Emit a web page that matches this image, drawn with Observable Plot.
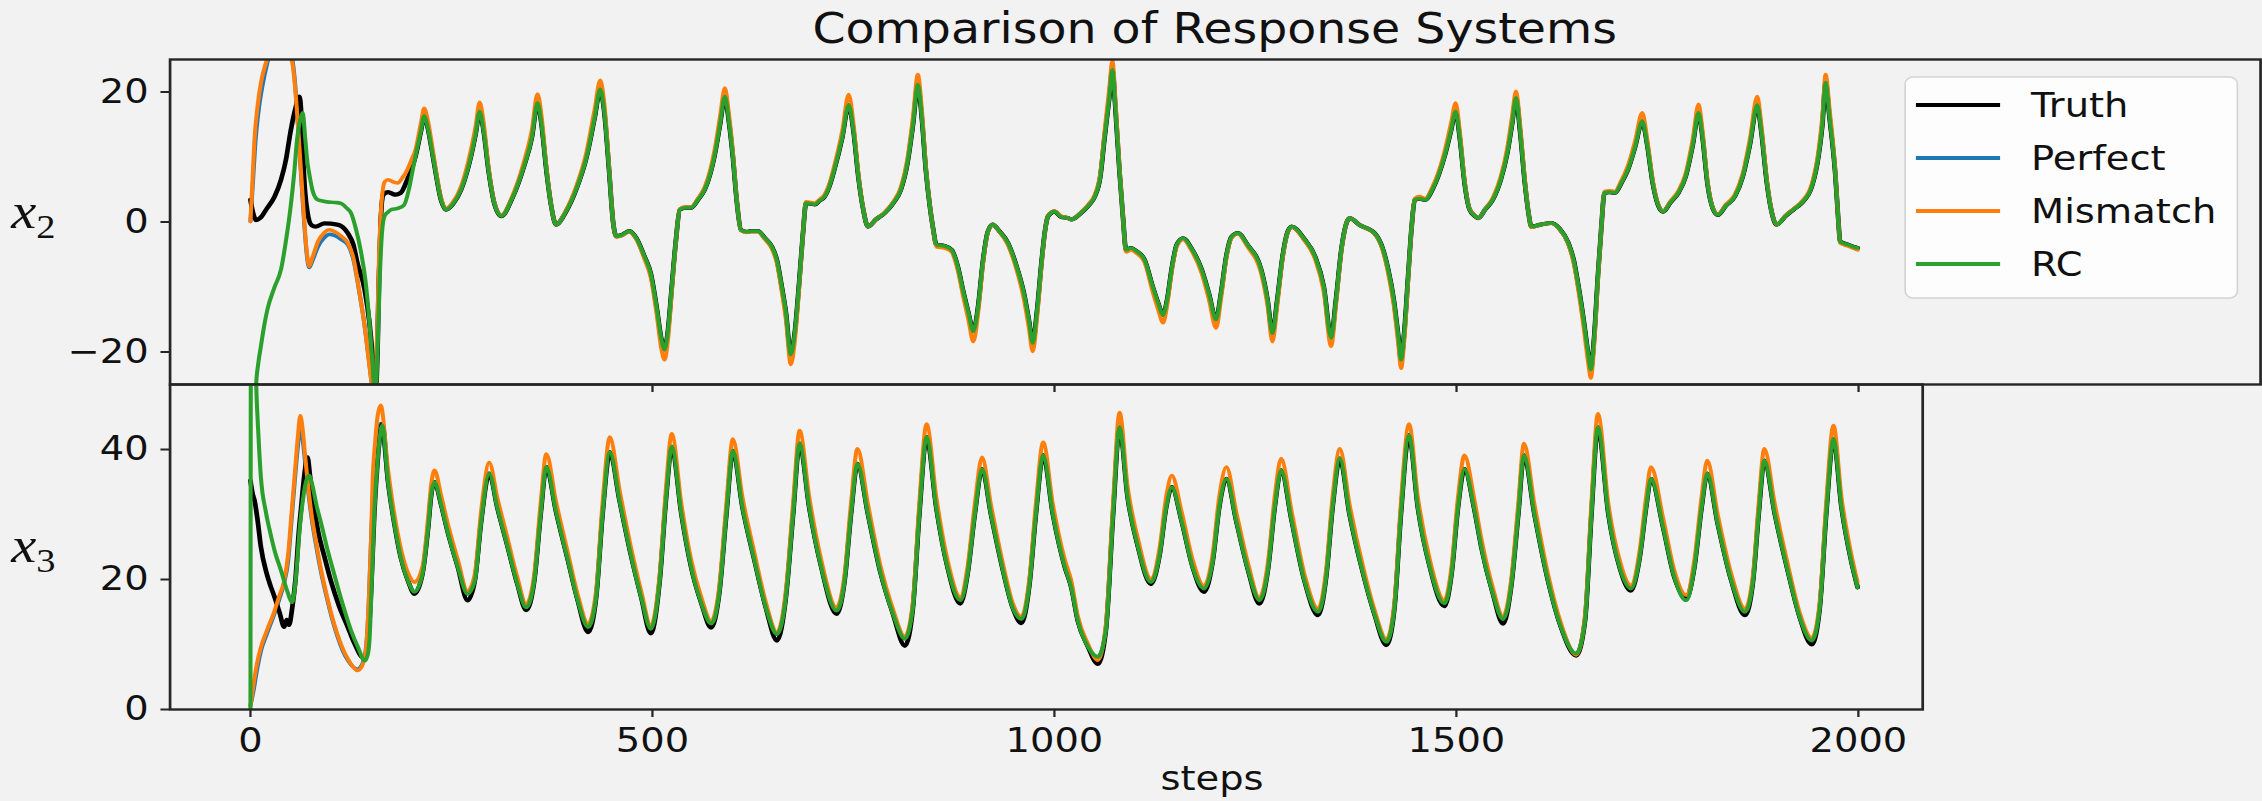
<!DOCTYPE html>
<html>
<head>
<meta charset="utf-8">
<script src="https://cdn.jsdelivr.net/npm/d3@7"></script>
<script src="https://cdn.jsdelivr.net/npm/@observablehq/plot@0.6"></script>
<style>
  html, body { margin: 0; padding: 0; background: #f2f2f2; }
  #fig { position: relative; width: 2002px; height: 801px; transform: scaleX(1.13); transform-origin: 0 0; }
  #fig > * { position: absolute; left: 0; }
</style>
</head>
<body>
<div id="fig"></div>
<script>
// ---- axis ticks and series ----
const stepTicks = [0, 500, 1000, 1500, 2000];
const x2Ticks = [-20, 0, 20];
const x3Ticks = [0, 20, 40];
const seriesNames = ["Truth", "Perfect", "Mismatch", "RC"];
const seriesColors = ["#000000", "#1f77b4", "#ff7f0e", "#2ca02c"];

// ---- x2: start-up transient of each system, [step, value] ----
const truthX2Start = [[0,3.4],[3,1.5],[7,0.3],[12,0.6],[20,2],[30,3.9],[38,6.5],[44,9.5],[50,14],[56,17.5],[61,19.3],[63,17],[65,11],[68,4.5],[71,1.4],[76,-0.5],[81,-0.7],[92,-0.2],[108,-0.4],[121,-1.7],[128,-3.5],[133,-6.3],[142,-10.4],[148,-15.5],[152,-21],[155,-27],[158,-20],[160,-8],[162,0],[165,4.2],[171,4.6],[180,4.2],[187,4.5],[195,6.5],[200,8]];
const perfectX2Start = [[0,0.1],[3,6],[6,12],[10,17],[15,21],[20,24],[27,26.5],[40,27],[50,26],[55,22],[59,15],[63,7],[67,-0.5],[70,-5],[73,-7],[77,-6],[84,-3.8],[92,-2.4],[98,-1.9],[105,-2.1],[113,-2.7],[121,-3.5],[128,-5.8],[135,-10.5],[142,-16],[148,-22],[152,-26],[155,-28],[157,-20],[160,-6],[163,2.5],[166,4.2],[171,4.6],[180,4.2],[187,4.5],[195,6.5],[200,8]];
const mismatchX2Start = [[0,0.1],[2,5],[5,12.7],[9,18],[13,21.4],[18,24],[25,26],[35,27],[45,26.5],[52,24.5],[55,21.4],[59,15],[63,7.5],[67,0],[70,-4.5],[73,-6.8],[77,-5.5],[84,-3],[92,-1.6],[98,-1.2],[105,-1.5],[113,-2.2],[121,-3.2],[128,-5.5],[135,-10.4],[142,-16],[148,-22.2],[152,-26],[155,-28],[157,-20],[160,-5],[163,3],[167,6.2],[171,6.5],[177,6.2],[183,6],[189,6.8],[195,8],[200,9.5]];
const rcX2Start = [[0,-60],[4,-35],[7,-25],[10,-21.5],[13,-19.1],[17,-16],[21,-13.5],[30,-10],[38,-7.3],[44,-3],[50,2.4],[54,7],[58,12.7],[62,15.8],[65,16.8],[68,13],[71,9],[73,7.5],[78,4.5],[84,3.4],[95,3.1],[105,3.0],[112,2.9],[120,2.1],[125,1.4],[131,-1],[137,-4.3],[143,-9],[148,-15.5],[152,-22],[155,-28],[158,-20],[161,-8],[164,-1],[167,1.0],[170,1.4],[175,1.9],[183,2.1],[191,2.6],[197,5],[201,7.5]];

// ---- x2 after synchronisation: [step, truth (also Perfect, RC), mismatch] ----
const x2Shared = [
  [205,10,11],[212,14,15.2],[216,16.3,17.5],[220,14.8,16],[225,11.5,12.5],[229,8.6,9.3],[237,3.4,3.8],[243,1.9,2.1],
  [252,2.8,3.1],[262,5,5.5],[274,10,11],[280,13.5,14.7],[285,17,18.4],[290,14,15.3],[296,8,8.6],[303,3,3.2],[312,0.9,1.0],
  [325,3.5,3.8],[340,8.5,9.2],[350,13,14.2],[357,18.3,19.7],[362,15,16.3],[368,8,8.6],[374,2.5,2.6],[380,-0.4,-0.4],
  [392,1.5,1.7],[405,5,5.4],[418,10,10.8],[428,16,17.3],[435,20.4,21.8],[440,17,18.3],[446,8,8.6],[451,0,0],[455,-2.2,-2.3],
  [462,-2.0,-2.1],[471,-1.4,-1.5],[480,-2.5,-2.7],[490,-5.3,-5.7],[498,-8,-8.6],[505,-13,-14],[511,-18,-19.5],[515,-19.6,-21.2],
  [519,-17,-18.4],[524,-10,-10.8],[529,-3,-3.2],[534,1.9,2.0],[541,2.2,2.3],[548,2.2,2.3],[557,3.5,3.7],[565,5,5.4],[572,7.5,8.1],
  [577,10.1,10.9],[584,15,16.2],[590,19.3,20.6],[595,15.5,16.7],[600,10,10.8],[605,3,3.2],[610,-1.2,-1.3],[617,-1.5,-1.6],
  [623,-1.4,-1.5],[631,-1.4,-1.5],[640,-2.5,-2.7],[648,-3.7,-4],[655,-6,-6.5],[660,-9.4,-10.1],[666,-14,-15.1],[672,-20.4,-21.9],
  [677,-17,-18.3],[682,-10,-10.8],[687,-2,-2.1],[691,2.9,3.1],[697,2.8,3.0],[702,2.7,2.9],[708,3.3,3.5],[714,3.9,4.2],[720,5.5,5.9],
  [726,8,8.6],[736,13,14],[744,18,19.6],[750,14,15.1],[756,7,7.5],[762,2,2.1],[768,-0.7,-0.7],[778,0.4,0.4],[789,1.4,1.5],
  [800,3,3.2],[809,5,5.4],[817,9,9.7],[824,15,16.2],[830,21.1,22.7],[835,16,17.3],[840,8,8.6],[845,2.4,2.6],[849,-1,-1.1],
  [853,-3.5,-3.8],[863,-3.7,-4],[872,-4.3,-4.6],[880,-7,-7.6],[886,-10.4,-11.2],[893,-14,-15.1],[899,-16.8,-18.4],[905,-13,-14],
  [911,-6,-6.5],[917,-1.5,-1.6],[923,-0.4,-0.4],[932,-1.5,-1.6],[942,-3.2,-3.5],[952,-6.5,-7],[962,-11,-11.9],[968,-15,-16.2],
  [973,-18.6,-19.9],[978,-14,-15.1],[984,-6,-6.5],[988,-1.5,-1.6],[992,0.9,1.0],[1000,1.6,1.7],[1008,0.8,0.9],[1017,0.6,0.6],
  [1021,0.4,0.4],[1033,1.4,1.5],[1042,2.5,2.7],[1050,3.9,4.2],[1057,7,7.5],[1062,12.7,13.7],[1068,19,20.4],[1072,23.4,24.8],
  [1076,17,18.3],[1081,7.5,8.1],[1085,1,1.1],[1089,-4.3,-4.6],[1095,-4.0,-4.3],[1102,-4.5,-4.8],[1112,-5.8,-6.2],[1122,-9.9,-10.7],
  [1129,-12.5,-13.5],[1135,-14.3,-15.5],[1140,-12,-12.9],[1146,-7,-7.5],[1152,-3.5,-3.8],[1160,-2.5,-2.7],[1170,-4,-4.3],
  [1183,-7.3,-7.9],[1192,-11,-11.9],[1201,-15,-16.3],[1207,-11,-11.9],[1214,-5,-5.4],[1220,-2.3,-2.5],[1228,-1.7,-1.8],
  [1240,-3.5,-3.8],[1257,-7.3,-7.9],[1265,-12,-12.9],[1271,-17.1,-18.4],[1277,-12,-12.9],[1284,-5,-5.4],[1290,-1.5,-1.6],
  [1295,-0.7,-0.8],[1310,-2.5,-2.7],[1324,-5.3,-5.7],[1335,-10,-10.8],[1344,-17.8,-19.1],[1350,-12,-12.9],[1357,-4,-4.3],
  [1363,-0.2,-0.2],[1367,0.6,0.6],[1380,-0.5,-0.5],[1398,-1.7,-1.8],[1408,-4,-4.3],[1415,-7.3,-7.9],[1422,-12,-12.9],
  [1428,-18,-19.3],[1431,-21.2,-22.5],[1435,-17,-18.3],[1440,-8,-8.6],[1444,-1,-1.1],[1448,3.4,3.6],[1454,3.6,3.9],[1461,3.4,3.6],
  [1470,5,5.4],[1477,7,7.5],[1486,10.5,11.3],[1493,14,15.1],[1499,17,18.3],[1504,13,14],[1510,6,6.5],[1516,2,2.1],[1523,0.9,1.0],
  [1527,0.6,0.6],[1536,2,2.1],[1545,3.4,3.7],[1555,6.5,7],[1563,10.5,11.3],[1569,15,16.2],[1574,19.1,20.1],[1579,14,15.1],
  [1585,6,6.5],[1590,1,1.1],[1593,-0.7,-0.8],[1605,-0.4,-0.4],[1618,-0.15,-0.2],[1628,-1,-1.1],[1639,-3.2,-3.4],[1646,-6,-6.5],
  [1651,-9.4,-10.1],[1658,-15,-16.1],[1664,-20.5,-21.9],[1667,-22.7,-24],[1671,-18,-19.3],[1676,-8,-8.6],[1680,-1,-1.1],
  [1684,4.5,4.7],[1690,4.6,4.8],[1697,4.5,4.7],[1705,6,6.4],[1713,8,8.6],[1722,11.5,12.4],[1731,15.5,16.8],[1737,12,12.9],
  [1744,6,6.5],[1751,2.5,2.7],[1757,1.6,1.7],[1766,3,3.2],[1776,4.5,4.8],[1785,7,7.5],[1794,12,12.9],[1801,16.8,18.1],
  [1806,13,14],[1812,6,6.5],[1819,2,2.1],[1825,1.1,1.2],[1835,2.5,2.7],[1846,3.9,4.2],[1856,7,7.5],[1865,12,12.9],[1874,18,19.3],
  [1879,14,15.1],[1886,6,6.5],[1892,1.5,1.6],[1898,-0.4,-0.4],[1910,1,1.1],[1920,2,2.1],[1929,2.9,3.1],[1942,5.5,5.9],
  [1950,10,10.8],[1955,15,16.2],[1959,21.4,22.7],[1964,16,17.3],[1971,7.5,8.1],[1975,0,0],[1977,-3,-3.2],[1982,-3.3,-3.5],
  [1987,-3.5,-3.7],[1993,-3.8,-4.0],[1999,-4,-4.3]
];

// ---- x3: start-up transient of each system, [step, value] ----
const truthX3Start = [[0,35.2],[3,33],[5,32.2],[9,29],[13,25],[20,21],[25,19],[30,17.3],[36,15],[42,12.7],[45,13.8],[48,13],[52,15.7],[56,20],[60,27],[63,31],[67,36],[71,38.8],[74,36],[78,32],[84,27.5],[92,23.5],[100,19.8],[110,16],[121,12.7],[130,10],[140,8],[144,8.5],[146,10.1],[150,18],[154,30.1],[158,38],[161,42],[164,43.9]];
const perfectX3Start = [[0,0.6],[4,3],[8,6],[13,9],[20,11.5],[30,14.8],[36,17],[42,19.5],[47,23],[51,29],[55,35],[59,40.5],[62,43.4],[65,41.5],[68,38],[71,34.5],[76,29.5],[82,25],[88,21],[95,17.2],[101,14.2],[108,11.3],[115,9],[122,7.4],[128,6.5],[133,6.2],[138,6.7],[141,7.8],[144,9.8],[147,16],[150,26],[153,35],[157,41],[162,44]];
const mismatchX3Start = [[0,0.6],[4,4],[8,7],[13,9.6],[20,12],[30,15.2],[36,17.5],[42,19.8],[47,24],[51,30],[55,36],[59,42],[62,45.2],[65,43],[68,39],[71,35.2],[76,30],[82,25.5],[88,21.4],[95,17.5],[101,14.5],[108,11.6],[115,9.3],[122,7.6],[128,6.5],[133,6],[138,6.5],[141,7.5],[144,9.6],[147,16],[150,26],[152,35.2],[155,41],[158,45],[162,46.8]];
const rcX3Start = [[0,0],[1,90],[4,70],[7,50.6],[10,42],[13,35.7],[19,30.5],[25,27],[31,24],[38,21.4],[45,18.5],[52,16.5],[55,18.5],[58,22.5],[61,27.5],[65,32],[69,35],[73,36],[77,34.5],[82,31.5],[88,28.6],[96,24.5],[104,20.9],[114,16.5],[125,12.2],[134,9.5],[142,7.5],[146,8.5],[148,10.6],[151,20],[154,30.1],[158,38],[164,43.7]];

// ---- x3 after synchronisation: [step, truth, rc (also Perfect), mismatch] ----
const x3Shared = [
  [171,35.2,35.2,37],[179,28.6,28.6,30],[187,23.4,23.4,24.8],[196,19.8,19.8,21],[204,17.8,18.1,19.6],[214,20.9,20.9,22],
  [221,28,28,29.5],[225,33.2,33.2,34.8],[229,35,35,36.8],[237,31.6,31.6,33],[245,27.5,27.5,28.8],[258,21.9,21.9,23],
  [270,16.8,17.8,18.2],[279,19.8,19.8,20.8],[287,29,29,30.6],[297,36.3,36.3,38],[307,31.1,31.1,32.6],[320,25,25,26.2],
  [332,19.3,19.3,20.3],[343,15.3,15.7,16.2],[353,19.8,19.8,20.8],[361,30.1,30.1,31.8],[368,37.3,37.3,39.3],[380,30.5,30.5,32],
  [395,22.9,22.9,24],[407,16.8,16.8,17.7],[420,11.9,12.7,13.2],[430,17.3,17.3,18.3],[438,30.1,30.1,31.8],[447,39.6,39.6,41.9],
  [459,32.2,32.2,33.8],[473,23.9,23.9,25.1],[486,17.3,17.3,18.2],[498,11.7,12.4,12.9],[509,19.8,19.8,20.8],[517,32.6,32.6,34.3],
  [524,40.4,40.4,42.4],[536,30.1,30.1,31.6],[548,22,22,23.1],[561,16.3,16.3,17.2],[573,12.6,13.2,13.6],[583,17.8,17.8,18.8],
  [592,30.1,30.1,31.7],[600,39.8,39.8,41.6],[612,31.1,31.1,32.6],[627,22.9,22.9,24],[641,15.7,15.7,16.5],[655,10.6,11.6,11.9],
  [666,17.3,17.3,18.3],[675,30.1,30.1,31.8],[683,40.9,40.9,42.9],[695,31.1,31.1,32.7],[710,21.9,21.9,23],[729,14.7,15.2,15.7],
  [739,19.8,19.8,20.8],[747,30.1,30.1,31.7],[755,37.8,37.8,40.1],[768,30.1,30.1,31.6],[784,20.9,20.9,21.9],[799,14.8,14.8,15.5],
  [814,9.8,10.9,11.2],[824,15.7,15.7,16.6],[832,30.1,30.1,31.8],[841,41.9,41.9,43.9],[853,31.1,31.1,32.7],[867,21.9,21.9,23],
  [883,16.3,16.8,17.3],[892,20.9,20.9,22],[901,30.1,30.1,31.6],[910,37,37,38.8],[921,30.1,30.1,31.5],[936,21.4,21.4,22.4],
  [948,15.7,15.7,16.4],[959,13.3,13.9,14.3],[969,19.3,19.3,20.3],[977,30.1,30.1,31.7],[986,39.1,39.1,41.1],[998,30.1,30.1,31.6],
  [1013,21.9,21.9,23],[1021,18.8,18.8,19.8],[1029,13.7,13.7,14.4],[1042,9.6,9.6,10],[1054,7,8.1,7.6],[1064,12.2,12.2,13],
  [1073,30.1,30.1,31.8],[1081,43.4,43.4,45.7],[1091,32.7,32.7,34.3],[1104,25,25,26.2],[1120,19.3,19.6,20.1],[1131,23.9,23.9,25],
  [1139,31.1,31.1,32.7],[1146,34.2,34.2,36],[1158,29.1,29.1,30.5],[1172,21.9,21.9,23],[1186,18.1,18.6,19],[1197,22.9,22.9,24],
  [1205,31.1,31.1,32.7],[1214,35.5,35.5,37.3],[1226,29.1,29.1,30.5],[1241,21.4,21.4,22.4],[1255,16.3,16.8,17.2],[1266,21.9,21.9,23],
  [1274,31.1,31.1,32.7],[1282,36.8,36.8,38.6],[1295,29.1,29.1,30.5],[1311,19.8,19.8,20.8],[1328,14.5,15,15.5],[1338,20.4,20.4,21.5],
  [1346,31.1,31.1,32.7],[1355,38.6,38.6,40.1],[1367,30.1,30.1,31.6],[1384,20.9,20.9,21.9],[1398,14.7,14.7,15.4],[1413,9.9,10.4,10.8],
  [1423,15.7,15.7,16.6],[1431,30.1,30.1,31.8],[1441,42.2,42.2,43.9],[1452,31.1,31.1,32.7],[1467,21.9,21.9,23],[1485,15.9,16.3,16.8],
  [1494,20.9,20.9,22],[1502,31.1,31.1,32.7],[1510,37,37,39.1],[1522,31,31,32.5],[1531,25,25,26.3],[1545,18,18,18.9],
  [1558,13.2,13.9,14.3],[1568,18.8,18.8,19.8],[1577,30.1,30.1,31.7],[1584,39.1,39.1,40.9],[1597,30.1,30.1,31.6],[1614,19.8,19.8,20.8],
  [1630,12.7,12.7,13.3],[1649,8.3,8.6,8.4],[1660,13.7,13.7,14.5],[1668,30.1,30.1,31.8],[1676,43.4,43.4,45.5],[1689,30.1,30.1,31.6],
  [1703,21.9,21.9,23],[1717,18.3,18.6,19.1],[1728,23.4,23.4,24.5],[1736,31.1,31.1,32.7],[1742,35.5,35.5,37.3],[1757,28.1,28.1,29.5],
  [1771,20.4,20.4,21.4],[1786,17.2,16.8,17.6],[1796,21.9,21.9,23],[1805,31.1,31.1,32.7],[1812,36.3,36.3,38.3],[1825,28.6,28.6,30],
  [1842,19.8,19.8,20.8],[1859,14.5,15,15.5],[1869,19.8,19.8,20.8],[1876,30.1,30.1,31.7],[1883,38.3,38.3,40.1],[1896,30.1,30.1,31.6],
  [1913,20.9,20.9,21.9],[1927,14.2,14.2,14.9],[1942,10,10.6,11],[1952,15.7,15.7,16.6],[1960,30.1,30.1,31.8],[1969,41.6,41.6,43.7],
  [1979,31.1,31.1,32.6],[1991,22.9,22.9,24],[1999,18.8,18.8,19.6]
];

// join a transient with one column of the synchronised table
const rows = (start, shared, col) => [
  ...start.map(([step, value]) => ({step, value})),
  ...shared.map(r => ({step: r[0], value: r[col]}))
];

const x2Series = [
  rows(truthX2Start, x2Shared, 1),
  rows(perfectX2Start, x2Shared, 1),
  rows(mismatchX2Start, x2Shared, 2),
  rows(rcX2Start, x2Shared, 1)
];
const x3Series = [
  rows(truthX3Start, x3Shared, 1),
  rows(perfectX3Start, x3Shared, 2),
  rows(mismatchX3Start, x3Shared, 3),
  rows(rcX3Start, x3Shared, 2)
];

// Perfect sits underneath Truth; Mismatch and RC go on top
const drawOrder = [1, 0, 2, 3];
const spine = "#262626";
const lineMarks = (series) => drawOrder.map((i) =>
  Plot.line(series[i], {
    x: "step", y: "value",
    stroke: seriesColors[i],
    strokeWidth: i === 0 ? 4.2 : 3.6,
    curve: "monotone-x",
    clip: true
  })
);

const baseStyle = {
  background: "transparent",
  fontFamily: "DejaVu Sans, sans-serif",
  fontSize: "34px",
  color: "#111",
  overflow: "visible"
};
const plain = (d) => `${d}`;

// upper panel: x2
const topPanel = Plot.plot({
  width: 2002, height: 337,
  marginLeft: 150, marginRight: 2, marginTop: 2, marginBottom: 10,
  style: baseStyle,
  x: {domain: [-100, 2500]},
  y: {domain: [-25, 25]},
  marks: [
    ...lineMarks(x2Series),
    Plot.frame({stroke: spine, strokeWidth: 2.4}),
    Plot.axisX({ticks: stepTicks, tickSize: 8, tickFormat: () => "", label: null, stroke: spine, strokeWidth: 2}),
    Plot.axisY({ticks: x2Ticks, tickSize: 8, tickPadding: 11, label: null, stroke: spine, strokeWidth: 2})
  ]
});

// lower panel: x3
const bottomPanel = Plot.plot({
  width: 2002, height: 419,
  marginLeft: 150, marginRight: 301, marginTop: 2, marginBottom: 92,
  style: baseStyle,
  x: {domain: [-100, 2080]},
  y: {domain: [0, 50]},
  marks: [
    ...lineMarks(x3Series),
    Plot.frame({stroke: spine, strokeWidth: 2.4}),
    Plot.axisX({ticks: stepTicks, tickSize: 8, tickPadding: 10, tickFormat: plain, label: null, stroke: spine, strokeWidth: 2}),
    Plot.axisY({ticks: x3Ticks, tickSize: 8, tickPadding: 11, tickFormat: plain, label: null, stroke: spine, strokeWidth: 2})
  ]
});

const fig = document.getElementById("fig");
topPanel.style.top = "57px";
bottomPanel.style.top = "382px";
fig.appendChild(topPanel);
fig.appendChild(bottomPanel);

// title, axis labels and legend
const ns = "http://www.w3.org/2000/svg";
const overlay = document.createElementNS(ns, "svg");
overlay.setAttribute("width", 2002);
overlay.setAttribute("height", 801);
overlay.style.top = "0px";
overlay.style.overflow = "visible";
overlay.style.fontFamily = "DejaVu Sans, sans-serif";

const legendTop = 77;
const legendRows = seriesNames.map((name, i) => {
  const cy = legendTop + 28 + 53 * i;
  return `<line x1="1695.5" x2="1770" y1="${cy}" y2="${cy}" stroke="${seriesColors[i]}" stroke-width="4"/>
    <text x="1797.4" y="${cy + 12.4}" font-size="34" fill="#111">${name}</text>`;
}).join("");

overlay.innerHTML = `
  <text x="1075" y="43" text-anchor="middle" font-size="42" fill="#111">Comparison of Response Systems</text>
  <text x="1072.6" y="790" text-anchor="middle" font-size="34" fill="#111">steps</text>
  <text x="10" y="228" font-family="Liberation Serif, serif" font-style="italic" font-size="50" fill="#111">x<tspan font-style="normal" font-size="34" dy="10">2</tspan></text>
  <text x="10" y="562" font-family="Liberation Serif, serif" font-style="italic" font-size="50" fill="#111">x<tspan font-style="normal" font-size="34" dy="10">3</tspan></text>
  <rect x="1686" y="${legendTop}" width="294" height="221" rx="7" ry="7" fill="#ffffff" fill-opacity="0.8" stroke="#d4d4d4" stroke-width="1.5"/>
  ${legendRows}
`;
fig.appendChild(overlay);
</script>
</body>
</html>
